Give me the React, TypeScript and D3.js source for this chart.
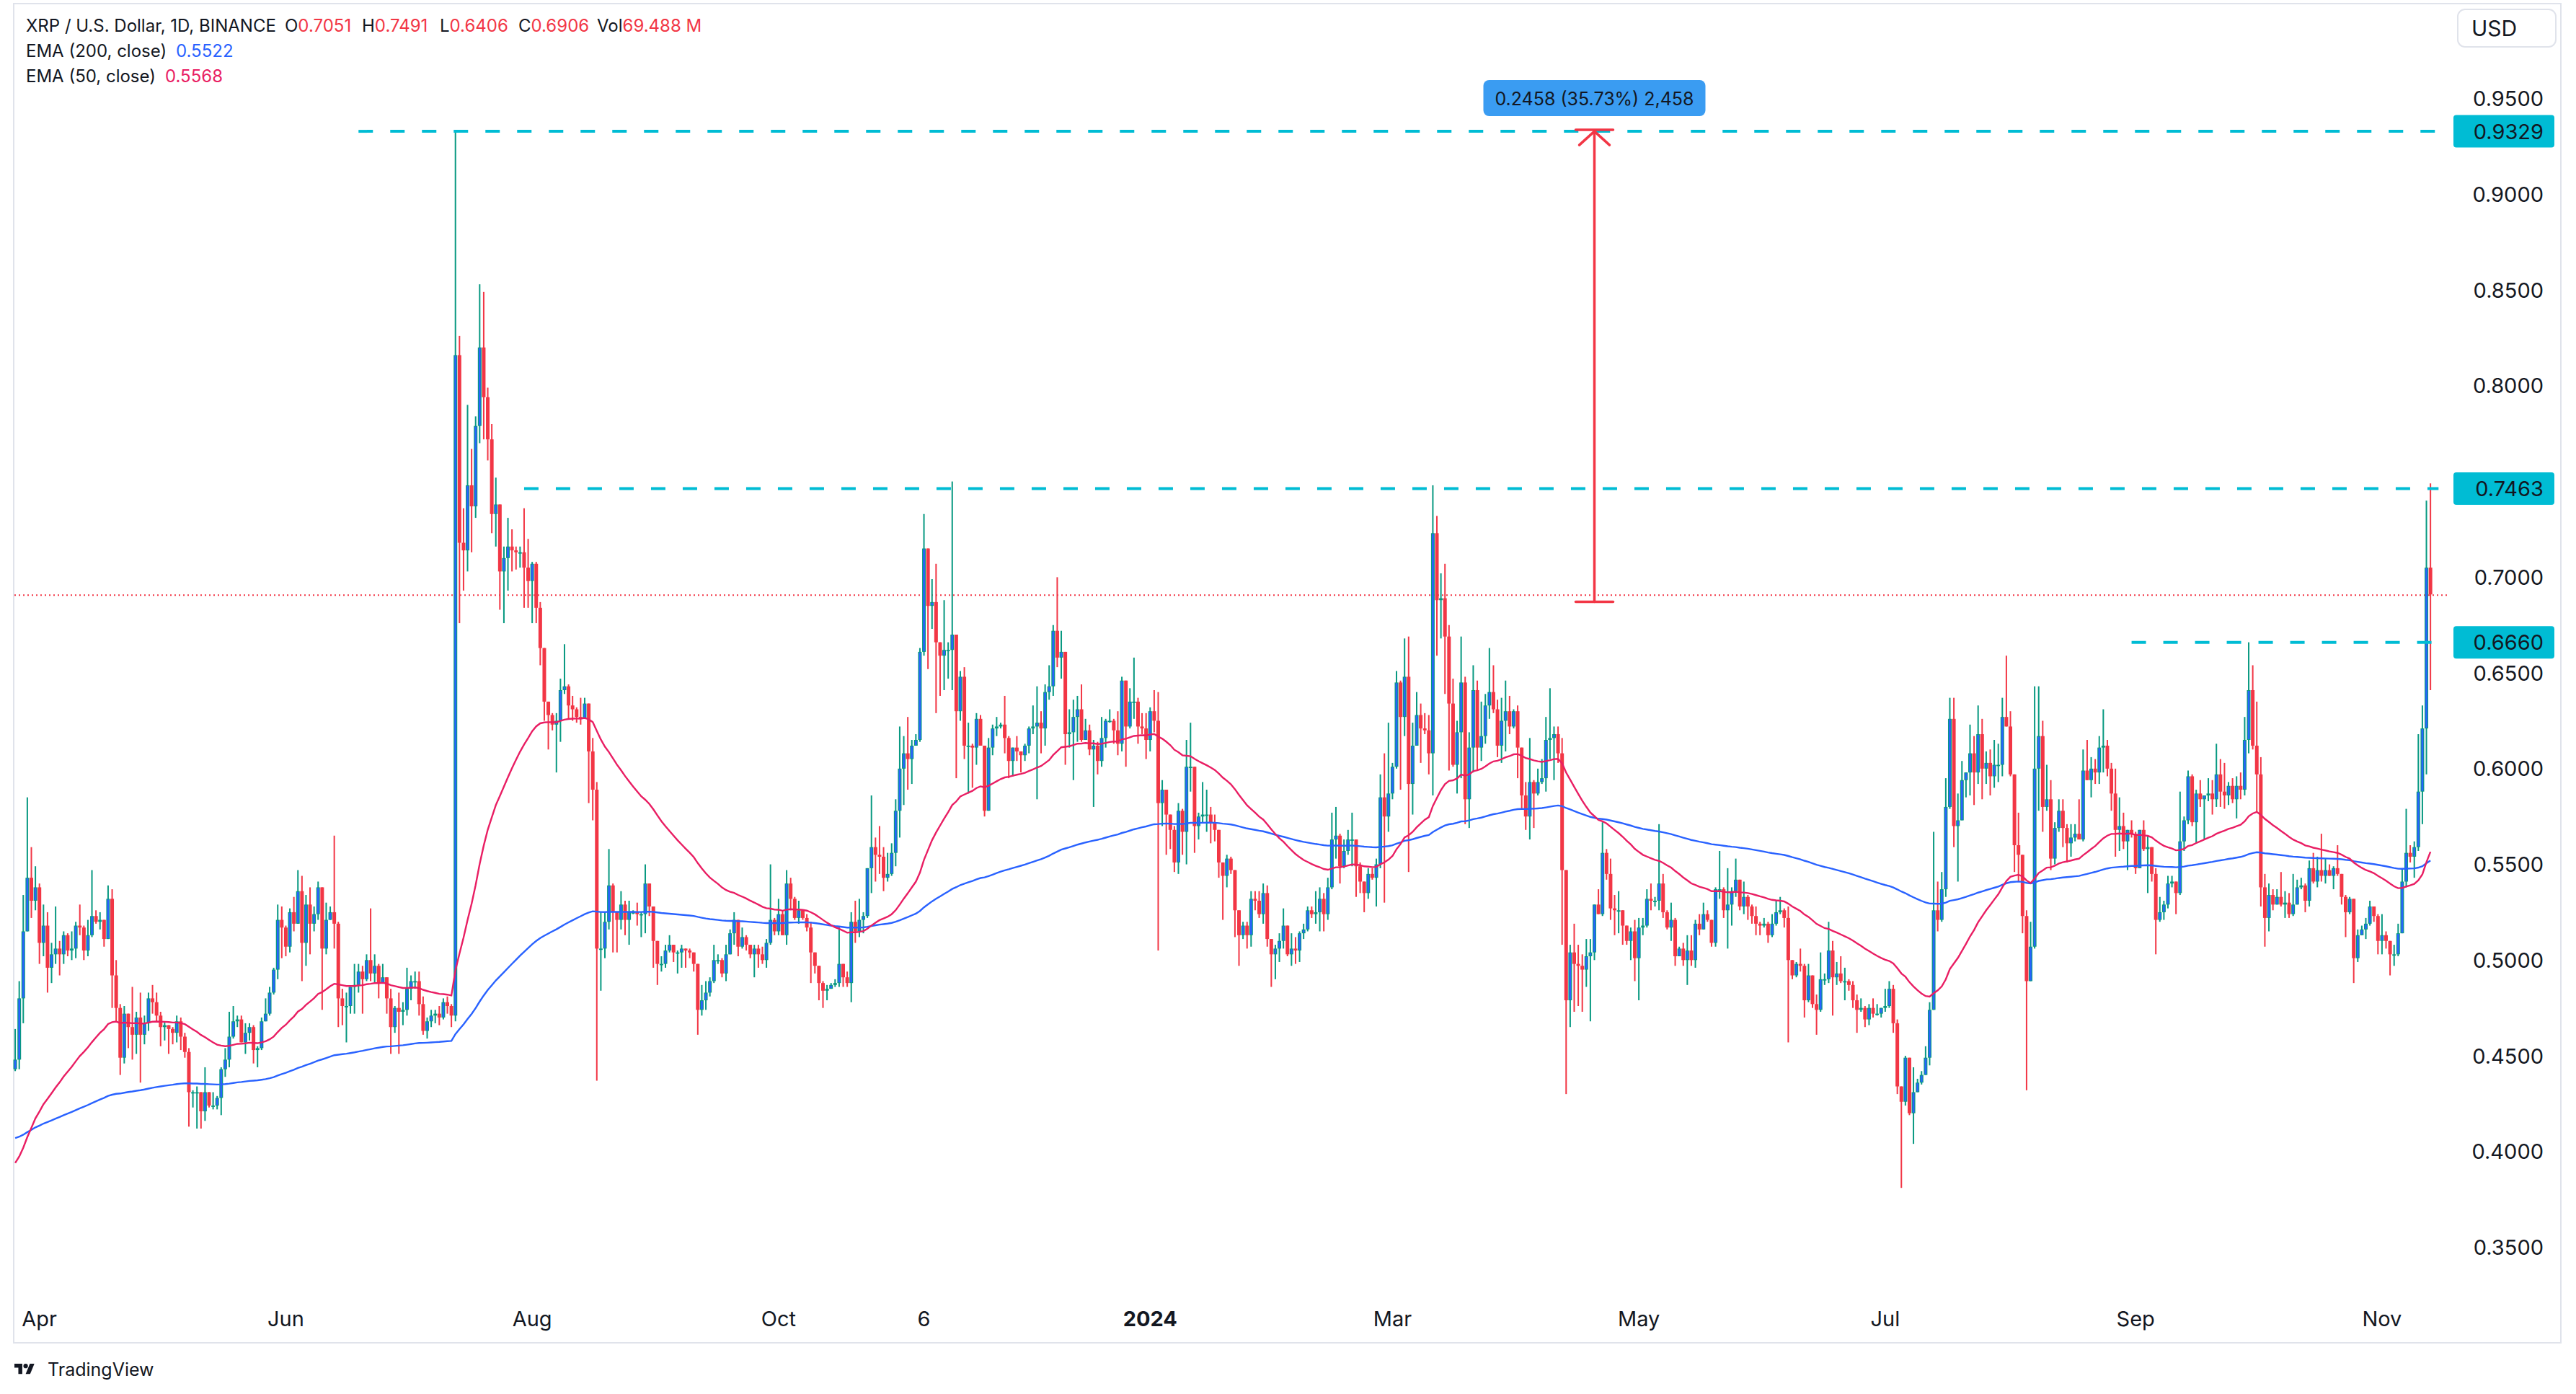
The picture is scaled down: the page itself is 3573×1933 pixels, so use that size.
import { useMemo } from "react";
import * as d3 from "d3";

// XRP / USD daily candles, BINANCE, 26 Mar 2023 -> 12 Nov 2024 (values in thousandths)
const firstDay = "2023-03-26";
const firstOpen = 443;
const closes = [
  448, 480, 515, 543, 531, 538,
  509, 518, 496, 503, 506, 503, 513, 505, 506, 518,
  517, 505, 513, 523, 520, 521, 511, 532, 492, 475,
  449, 472, 465, 461, 470, 461, 467, 480, 478, 471,
  465, 466, 464, 462, 468, 460, 452, 431, 431, 431,
  421, 431, 424, 424, 428, 443, 448, 460, 468, 469,
  457, 462, 465, 453, 454, 468, 472, 483, 495, 521,
  517, 507, 525, 519, 536, 509, 529, 519, 524, 538,
  506, 521, 525, 519, 480, 476, 476, 486, 487, 494,
  490, 500, 493, 497, 488, 491, 480, 465, 475, 473,
  474, 485, 489, 489, 477, 463, 468, 471, 472, 470,
  478, 476, 471, 816, 718, 714, 748, 737, 779, 820,
  794, 772, 733, 738, 703, 710, 716, 714, 713, 713,
  705, 698, 707, 684, 663, 635, 628, 623, 625, 641,
  643, 633, 631, 627, 626, 634, 609, 589, 506, 506,
  520, 539, 525, 521, 529, 521, 525, 525, 524, 524,
  540, 528, 510, 498, 498, 505, 508, 504, 504, 506,
  505, 504, 498, 474, 479, 483, 489, 500, 500, 493,
  503, 514, 521, 507, 512, 508, 503, 506, 503, 500,
  509, 521, 515, 524, 513, 540, 532, 522, 526, 522,
  517, 504, 497, 488, 484, 485, 487, 488, 498, 491,
  488, 520, 515, 521, 523, 548, 559, 555, 554, 543,
  545, 556, 578, 600, 608, 605, 612, 615, 661, 715,
  685, 687, 666, 659, 662, 662, 670, 630, 648, 612,
  612, 611, 626, 612, 578, 611, 621, 622, 623, 616,
  604, 611, 609, 607, 612, 621, 622, 624, 621, 640,
  643, 672, 658, 661, 618, 619, 627, 631, 615, 620,
  610, 612, 604, 616, 625, 625, 620, 613, 646, 622,
  635, 635, 622, 621, 615, 630, 625, 582, 589, 576,
  568, 551, 578, 567, 601, 601, 570, 575, 576, 576,
  572, 568, 551, 544, 553, 547, 526, 513, 518, 513,
  532, 531, 524, 535, 511, 503, 506, 510, 518, 503,
  506, 505, 514, 516, 526, 524, 525, 532, 524, 538,
  563, 565, 549, 557, 563, 563, 549, 541, 535, 545,
  543, 550, 585, 575, 587, 601, 645, 627, 648, 592,
  612, 628, 621, 620, 608, 723, 688, 689, 669, 634,
  602, 619, 645, 584, 611, 641, 611, 617, 633, 640,
  631, 612, 625, 630, 622, 630, 611, 586, 575, 593,
  587, 593, 595, 615, 616, 618, 608, 547, 479, 504,
  498, 497, 495, 502, 504, 529, 524, 556, 545, 527,
  526, 526, 518, 510, 515, 501, 517, 518, 532, 531,
  531, 540, 525, 517, 521, 502, 506, 500, 505, 500,
  519, 516, 524, 521, 509, 537, 537, 526, 529, 536,
  542, 528, 533, 528, 523, 519, 518, 519, 513, 519,
  525, 526, 522, 500, 492, 498, 497, 479, 492, 477,
  474, 490, 490, 505, 491, 493, 489, 489, 487, 479,
  474, 475, 469, 475, 472, 472, 475, 476, 485, 467,
  434, 426, 449, 420, 431, 436, 440, 449, 474, 526,
  521, 537, 580, 626, 570, 573, 594, 598, 608, 598,
  618, 600, 603, 596, 602, 602, 627, 622, 597, 560,
  555, 523, 489, 507, 600, 617, 580, 584, 553, 569,
  578, 569, 561, 564, 566, 563, 599, 594, 600, 598,
  611, 612, 600, 587, 568, 570, 562, 568, 566, 548,
  568, 558, 559, 545, 521, 525, 529, 540, 541, 535,
  562, 573, 596, 572, 587, 584, 586, 587, 584, 597,
  588, 586, 591, 584, 591, 589, 615, 641, 612, 597,
  538, 522, 534, 529, 533, 529, 530, 524, 529, 538,
  539, 531, 548, 541, 547, 544, 547, 544, 548, 545,
  533, 525, 532, 501, 513, 516, 519, 528, 523, 510,
  513, 510, 503, 503, 514, 541, 556, 554, 559, 588,
  621, 705, 691,
];
const highs = [
  464, 489, 534, 585, 559, 549,
  540, 529, 525, 509, 528, 510, 515, 514, 515, 520,
  529, 518, 521, 547, 526, 525, 521, 539, 537, 500,
  477, 476, 472, 486, 473, 483, 471, 483, 487, 483,
  473, 468, 466, 465, 471, 470, 462, 454, 432, 434,
  431, 444, 431, 431, 429, 444, 454, 473, 476, 471,
  471, 467, 467, 466, 455, 470, 480, 486, 496, 529,
  528, 518, 527, 533, 547, 544, 534, 538, 528, 541,
  538, 530, 528, 565, 520, 485, 483, 486, 498, 498,
  497, 503, 527, 503, 498, 498, 491, 485, 476, 483,
  478, 496, 492, 494, 494, 481, 470, 474, 474, 476,
  480, 481, 477, 933, 826, 736, 790, 767, 784, 853,
  849, 799, 780, 752, 738, 716, 731, 725, 716, 716,
  736, 720, 708, 708, 687, 662, 635, 629, 629, 647,
  665, 644, 638, 632, 637, 637, 634, 616, 593, 525,
  525, 558, 540, 525, 536, 531, 531, 526, 530, 525,
  550, 540, 528, 510, 502, 508, 513, 508, 505, 508,
  506, 506, 504, 498, 487, 489, 491, 508, 503, 501,
  508, 516, 525, 521, 517, 513, 508, 508, 508, 507,
  511, 550, 522, 532, 526, 547, 543, 533, 531, 526,
  524, 520, 504, 497, 489, 487, 488, 490, 517, 498,
  494, 525, 531, 532, 525, 548, 586, 564, 570, 559,
  556, 561, 584, 622, 617, 627, 615, 618, 663, 733,
  715, 699, 707, 666, 688, 666, 750, 670, 651, 653,
  624, 613, 629, 628, 611, 616, 623, 627, 624, 638,
  617, 611, 617, 609, 613, 622, 633, 643, 630, 644,
  654, 675, 700, 672, 661, 631, 636, 638, 644, 626,
  623, 615, 614, 627, 626, 631, 626, 630, 648, 646,
  642, 658, 637, 629, 629, 632, 641, 640, 594, 589,
  576, 570, 582, 579, 615, 624, 601, 577, 593, 589,
  580, 576, 568, 551, 555, 554, 547, 526, 520, 520,
  536, 536, 536, 540, 539, 511, 508, 514, 527, 518,
  514, 512, 515, 519, 528, 528, 536, 538, 535, 543,
  577, 580, 566, 563, 568, 577, 563, 551, 541, 548,
  548, 553, 597, 608, 624, 603, 651, 646, 668, 669,
  624, 640, 634, 629, 628, 748, 732, 702, 707, 675,
  647, 625, 669, 648, 619, 654, 646, 635, 639, 663,
  654, 636, 637, 646, 638, 631, 633, 611, 593, 616,
  594, 600, 605, 627, 642, 622, 622, 616, 547, 508,
  519, 508, 503, 511, 511, 529, 537, 572, 558, 553,
  534, 536, 526, 518, 517, 521, 522, 522, 537, 540,
  533, 571, 545, 526, 530, 522, 507, 509, 513, 513,
  521, 524, 530, 526, 521, 538, 557, 538, 548, 538,
  553, 542, 541, 534, 529, 528, 520, 522, 520, 524,
  531, 533, 527, 528, 500, 499, 506, 498, 498, 492,
  482, 504, 493, 520, 510, 499, 502, 496, 490, 489,
  482, 480, 476, 477, 480, 477, 475, 485, 489, 487,
  469, 434, 450, 449, 444, 438, 442, 455, 478, 567,
  541, 546, 595, 637, 637, 587, 604, 598, 623, 617,
  633, 626, 609, 610, 615, 613, 637, 659, 630, 596,
  577, 555, 526, 520, 643, 643, 625, 602, 594, 572,
  584, 584, 571, 571, 571, 584, 610, 615, 606, 605,
  617, 631, 615, 603, 600, 585, 577, 568, 573, 567,
  568, 573, 565, 559, 548, 533, 531, 544, 544, 541,
  588, 575, 599, 597, 589, 594, 586, 595, 594, 613,
  605, 603, 593, 595, 596, 598, 627, 666, 654, 635,
  606, 545, 540, 537, 537, 546, 536, 535, 545, 542,
  543, 540, 552, 556, 554, 566, 553, 550, 549, 560,
  545, 534, 533, 532, 516, 518, 522, 531, 528, 524,
  524, 515, 510, 508, 519, 548, 579, 560, 562, 618,
  633, 740, 749,
];
const lows = [
  442, 443, 467, 515, 522, 526,
  498, 502, 483, 488, 498, 492, 498, 502, 500, 501,
  513, 500, 502, 512, 519, 516, 507, 511, 475, 468,
  440, 446, 454, 448, 451, 436, 456, 463, 472, 468,
  455, 458, 451, 456, 457, 453, 449, 413, 423, 412,
  412, 416, 423, 422, 422, 419, 439, 444, 459, 465,
  457, 451, 458, 446, 444, 453, 471, 471, 482, 490,
  501, 502, 504, 515, 519, 489, 497, 503, 515, 521,
  474, 503, 521, 506, 465, 466, 457, 472, 472, 483,
  472, 489, 489, 488, 480, 488, 472, 451, 462, 451,
  466, 471, 479, 485, 471, 461, 459, 465, 467, 466,
  469, 472, 465, 468, 676, 693, 703, 713, 731, 770,
  772, 761, 723, 716, 683, 676, 693, 703, 704, 705,
  684, 684, 676, 676, 654, 625, 610, 620, 598, 614,
  639, 626, 625, 624, 623, 626, 582, 573, 437, 484,
  501, 516, 504, 504, 516, 513, 508, 524, 518, 512,
  514, 523, 496, 487, 494, 496, 504, 499, 493, 496,
  496, 501, 494, 461, 471, 474, 481, 488, 498, 491,
  489, 503, 508, 502, 506, 505, 501, 491, 496, 498,
  496, 508, 513, 513, 513, 508, 526, 521, 519, 521,
  515, 488, 493, 479, 475, 479, 485, 486, 486, 486,
  486, 478, 509, 512, 514, 522, 535, 541, 545, 536,
  541, 544, 549, 564, 581, 589, 592, 612, 614, 659,
  652, 673, 629, 638, 641, 647, 641, 595, 625, 605,
  587, 590, 602, 612, 575, 578, 607, 617, 621, 608,
  595, 596, 604, 598, 604, 608, 618, 584, 608, 612,
  636, 638, 653, 647, 602, 611, 594, 614, 614, 615,
  607, 580, 597, 601, 611, 624, 613, 607, 609, 601,
  621, 626, 613, 618, 605, 609, 619, 505, 570, 555,
  558, 546, 545, 555, 550, 588, 556, 563, 572, 567,
  561, 562, 543, 521, 538, 545, 512, 497, 511, 506,
  507, 526, 522, 519, 507, 486, 490, 499, 506, 502,
  497, 498, 499, 511, 515, 522, 519, 515, 515, 521,
  537, 553, 540, 548, 555, 549, 533, 535, 525, 532,
  542, 528, 548, 530, 567, 584, 600, 589, 617, 546,
  576, 612, 603, 618, 597, 586, 659, 668, 639, 599,
  601, 587, 595, 571, 569, 598, 599, 604, 613, 626,
  629, 606, 603, 609, 618, 621, 595, 579, 568, 563,
  569, 586, 592, 588, 605, 594, 603, 508, 430, 465,
  473, 476, 473, 486, 468, 500, 524, 523, 542, 521,
  513, 514, 508, 508, 500, 489, 479, 513, 517, 526,
  528, 526, 522, 516, 510, 497, 502, 497, 487, 497,
  496, 513, 516, 520, 507, 507, 532, 522, 506, 518,
  533, 526, 524, 521, 519, 513, 513, 517, 509, 512,
  518, 524, 517, 457, 490, 491, 494, 470, 478, 475,
  461, 473, 487, 488, 471, 487, 488, 479, 484, 475,
  462, 473, 465, 466, 470, 471, 470, 473, 475, 462,
  430, 381, 424, 419, 404, 431, 435, 440, 445, 474,
  515, 520, 533, 579, 559, 541, 574, 585, 586, 581,
  592, 584, 592, 586, 590, 593, 596, 622, 596, 546,
  541, 514, 432, 489, 506, 578, 567, 578, 547, 550,
  567, 559, 551, 554, 562, 563, 562, 594, 585, 592,
  592, 598, 596, 578, 554, 557, 558, 547, 564, 545,
  548, 557, 535, 541, 503, 520, 521, 527, 538, 524,
  534, 557, 571, 570, 561, 580, 563, 583, 576, 580,
  580, 579, 581, 582, 574, 584, 586, 608, 610, 577,
  528, 507, 515, 526, 529, 528, 522, 522, 523, 529,
  537, 525, 528, 540, 538, 541, 540, 544, 537, 544,
  529, 512, 524, 488, 499, 513, 511, 518, 520, 503,
  503, 506, 492, 497, 502, 514, 538, 551, 543, 557,
  571, 597, 641,
];

// EMA values on the first visible day
const ema200Start = 0.407;
const ema50Start = 0.394;

const priceTicks = [0.95, 0.9, 0.85, 0.8, 0.7, 0.65, 0.6, 0.55, 0.5, 0.45, 0.4, 0.35];
const timeTickDays = ["2023-04-01", "2023-06-01", "2023-08-01", "2023-10-01", "2023-11-06", "2024-01-01", "2024-03-01", "2024-05-01", "2024-07-01", "2024-09-01", "2024-11-01"];
const timeTickLabels = ["Apr", "Jun", "Aug", "Oct", "6", "2024", "Mar", "May", "Jul", "Sep", "Nov"];

// horizontal levels drawn on the chart
const levelPrices = [0.9329, 0.7463, 0.666];
const levelStartDays = ["2023-06-19", "2023-07-30", "2024-08-31"];
const levelEndDay = "2024-11-15";

// price range measurement
const measureDay = "2024-04-20";
const measureFrom = 0.6871;
const measureTo = 0.9329;
const measureText = "0.2458 (35.73%) 2,458";

const lastClose = 0.6906;

const W = 3573;
const H = 1933;
const FONT = "Inter, 'Noto Sans', Roboto, sans-serif";
const UP = "#089981";
const UP_FILL = "#2962ff";
const DOWN = "#f23645";
const CYAN = "#00bcd4";
const TEXT = "#131722";

const day = (s: string) => new Date(s + "T00:00:00Z");

export default function App() {
  const x = d3.scaleUtc().domain([day("2023-04-01"), day("2024-11-01")]).range([54.7, 3303.9]);
  const y = d3.scaleLinear().domain([0.35, 0.95]).range([1729.5, 136.7]);

  const candles = useMemo(() => {
    const t0 = day(firstDay).getTime();
    return closes.map((c, i) => {
      const o = i === 0 ? firstOpen : closes[i - 1];
      return {
        date: new Date(t0 + i * 86400000),
        o: o / 1000,
        c: c / 1000,
        h: Math.max(highs[i], o, c) / 1000,
        l: Math.min(lows[i], o, c) / 1000,
      };
    });
  }, []);

  const emas = useMemo(() => {
    let e200 = ema200Start;
    let e50 = ema50Start;
    return candles.map((d, i) => {
      if (i > 0) {
        e200 += (d.c - e200) * (2 / 201);
        e50 += (d.c - e50) * (2 / 51);
      }
      return { date: d.date, e200, e50 };
    });
  }, [candles]);

  const line200 = d3.line<any>().x(d => x(d.date)).y(d => y(d.e200))(emas);
  const line50 = d3.line<any>().x(d => x(d.date)).y(d => y(d.e50))(emas);

  const bw = 5;
  const mx = x(day(measureDay));
  const myTop = y(measureTo);
  const myBot = y(measureFrom);
  const levelEndX = x(day(levelEndDay));

  return (
    <svg width={W} height={H} style={{ position: "absolute", left: 0, top: 0, background: "#fff" }} fontFamily={FONT}>
      <rect x={0} y={0} width={W} height={H} fill="#fff" />
      <rect x={19} y={5} width={3533} height={1857} fill="none" stroke="#e0e3eb" strokeWidth={2} />

      {/* current price line */}
      <line x1={20} x2={3398} y1={y(lastClose)} y2={y(lastClose)} stroke={DOWN} strokeWidth={2} strokeDasharray="2 4" />

      {/* candles */}
      <g>
        {candles.map((d, i) => {
          const cx = x(d.date);
          const up = d.c >= d.o;
          const top = y(Math.max(d.o, d.c));
          const bh = Math.max(1.8, y(Math.min(d.o, d.c)) - top);
          return (
            <g key={i}>
              <rect x={cx - 1} y={y(d.h)} width={2} height={y(d.l) - y(d.h)} fill={up ? UP : DOWN} />
              <rect x={cx - bw / 2} y={top} width={bw} height={bh} fill={up ? UP : DOWN} />
              {up && bh > 3 && (
                <rect x={cx - bw / 2 + 1.2} y={top + 1} width={bw - 2.4} height={bh - 2} fill={UP_FILL} />
              )}
            </g>
          );
        })}
      </g>

      {/* EMAs */}
      <path d={line200 || ""} fill="none" stroke="#2962ff" strokeWidth={2.4} />
      <path d={line50 || ""} fill="none" stroke="#e91e63" strokeWidth={2.4} />

      {/* levels */}
      {levelPrices.map((p, i) => (
        <line key={i} x1={x(day(levelStartDays[i]))} x2={levelEndX} y1={y(p)} y2={y(p)} stroke={CYAN} strokeWidth={4} strokeDasharray="20 24" />
      ))}

      {/* measurement */}
      <g stroke={DOWN} strokeWidth={3.5} fill="none" strokeLinecap="round">
        <line x1={mx} x2={mx} y1={myTop} y2={myBot} />
        <line x1={mx - 26} x2={mx + 26} y1={myTop - 2} y2={myTop - 2} />
        <line x1={mx} x2={mx - 21} y1={myTop} y2={myTop + 19} />
        <line x1={mx} x2={mx + 21} y1={myTop} y2={myTop + 19} />
        <line x1={mx - 26} x2={mx + 26} y1={myBot} y2={myBot} />
      </g>
      <rect x={mx - 154} y={111} width={308} height={50} rx={8} fill="#3a9cf2" />
      <text x={mx} y={137} textAnchor="middle" dominantBaseline="central" fontSize={25} fill={TEXT}>{measureText}</text>

      {/* price scale */}
      <g fontSize={29} fill={TEXT} textAnchor="end">
        {priceTicks.map(p => (
          <text key={p} x={3528} y={y(p)} dominantBaseline="central">{p.toFixed(4)}</text>
        ))}
      </g>
      {levelPrices.map((p, i) => (
        <g key={i}>
          <rect x={3403} y={y(p) - 22.5} width={140} height={45} rx={4} fill={CYAN} />
          <text x={3528} y={y(p)} dominantBaseline="central" textAnchor="end" fontSize={29} fill={TEXT}>{p.toFixed(4)}</text>
        </g>
      ))}
      <rect x={3409} y={13} width={136} height={52} rx={10} fill="#fff" stroke="#e0e3eb" strokeWidth={2} />
      <text x={3428} y={39} dominantBaseline="central" fontSize={30} fill={TEXT}>USD</text>

      {/* time scale */}
      <g fontSize={29} fill={TEXT} textAnchor="middle">
        {timeTickDays.map((t, i) => (
          <text key={t} x={x(day(t))} y={1828} dominantBaseline="central" fontWeight={timeTickLabels[i] === "2024" ? 700 : 400}>{timeTickLabels[i]}</text>
        ))}
      </g>

      {/* legend */}
      <g fontSize={24} dominantBaseline="central">
        <text x={36} y={35} fill={TEXT} dominantBaseline="central">XRP / U.S. Dollar, 1D, BINANCE</text>
        <text x={395} y={35} dominantBaseline="central">
          <tspan fill={TEXT}>O</tspan><tspan fill={DOWN}>0.7051</tspan>
        </text>
        <text x={502} y={35} dominantBaseline="central">
          <tspan fill={TEXT}>H</tspan><tspan fill={DOWN}>0.7491</tspan>
        </text>
        <text x={610} y={35} dominantBaseline="central">
          <tspan fill={TEXT}>L</tspan><tspan fill={DOWN}>0.6406</tspan>
        </text>
        <text x={719} y={35} dominantBaseline="central">
          <tspan fill={TEXT}>C</tspan><tspan fill={DOWN}>0.6906</tspan>
        </text>
        <text x={828} y={35} dominantBaseline="central">
          <tspan fill={TEXT}>Vol</tspan><tspan fill={DOWN}>69.488 M</tspan>
        </text>
        <text x={36} y={70} fill={TEXT} dominantBaseline="central">EMA (200, close)</text>
        <text x={244} y={70} fill="#2962ff" dominantBaseline="central">0.5522</text>
        <text x={36} y={105} fill={TEXT} dominantBaseline="central">EMA (50, close)</text>
        <text x={229} y={105} fill="#e91e63" dominantBaseline="central">0.5568</text>
      </g>

      {/* TradingView mark */}
      <g transform="translate(20,1888) scale(0.78)" fill={TEXT}>
        <path d="M14 22H7V11H0V4h14v18z" />
        <circle cx={20} cy={8} r={4} />
        <path d="M28 22h-8l7.5-18h8L28 22z" />
      </g>
      <text x={66} y={1899} fontSize={25} fill={TEXT} dominantBaseline="central">TradingView</text>
    </svg>
  );
}
